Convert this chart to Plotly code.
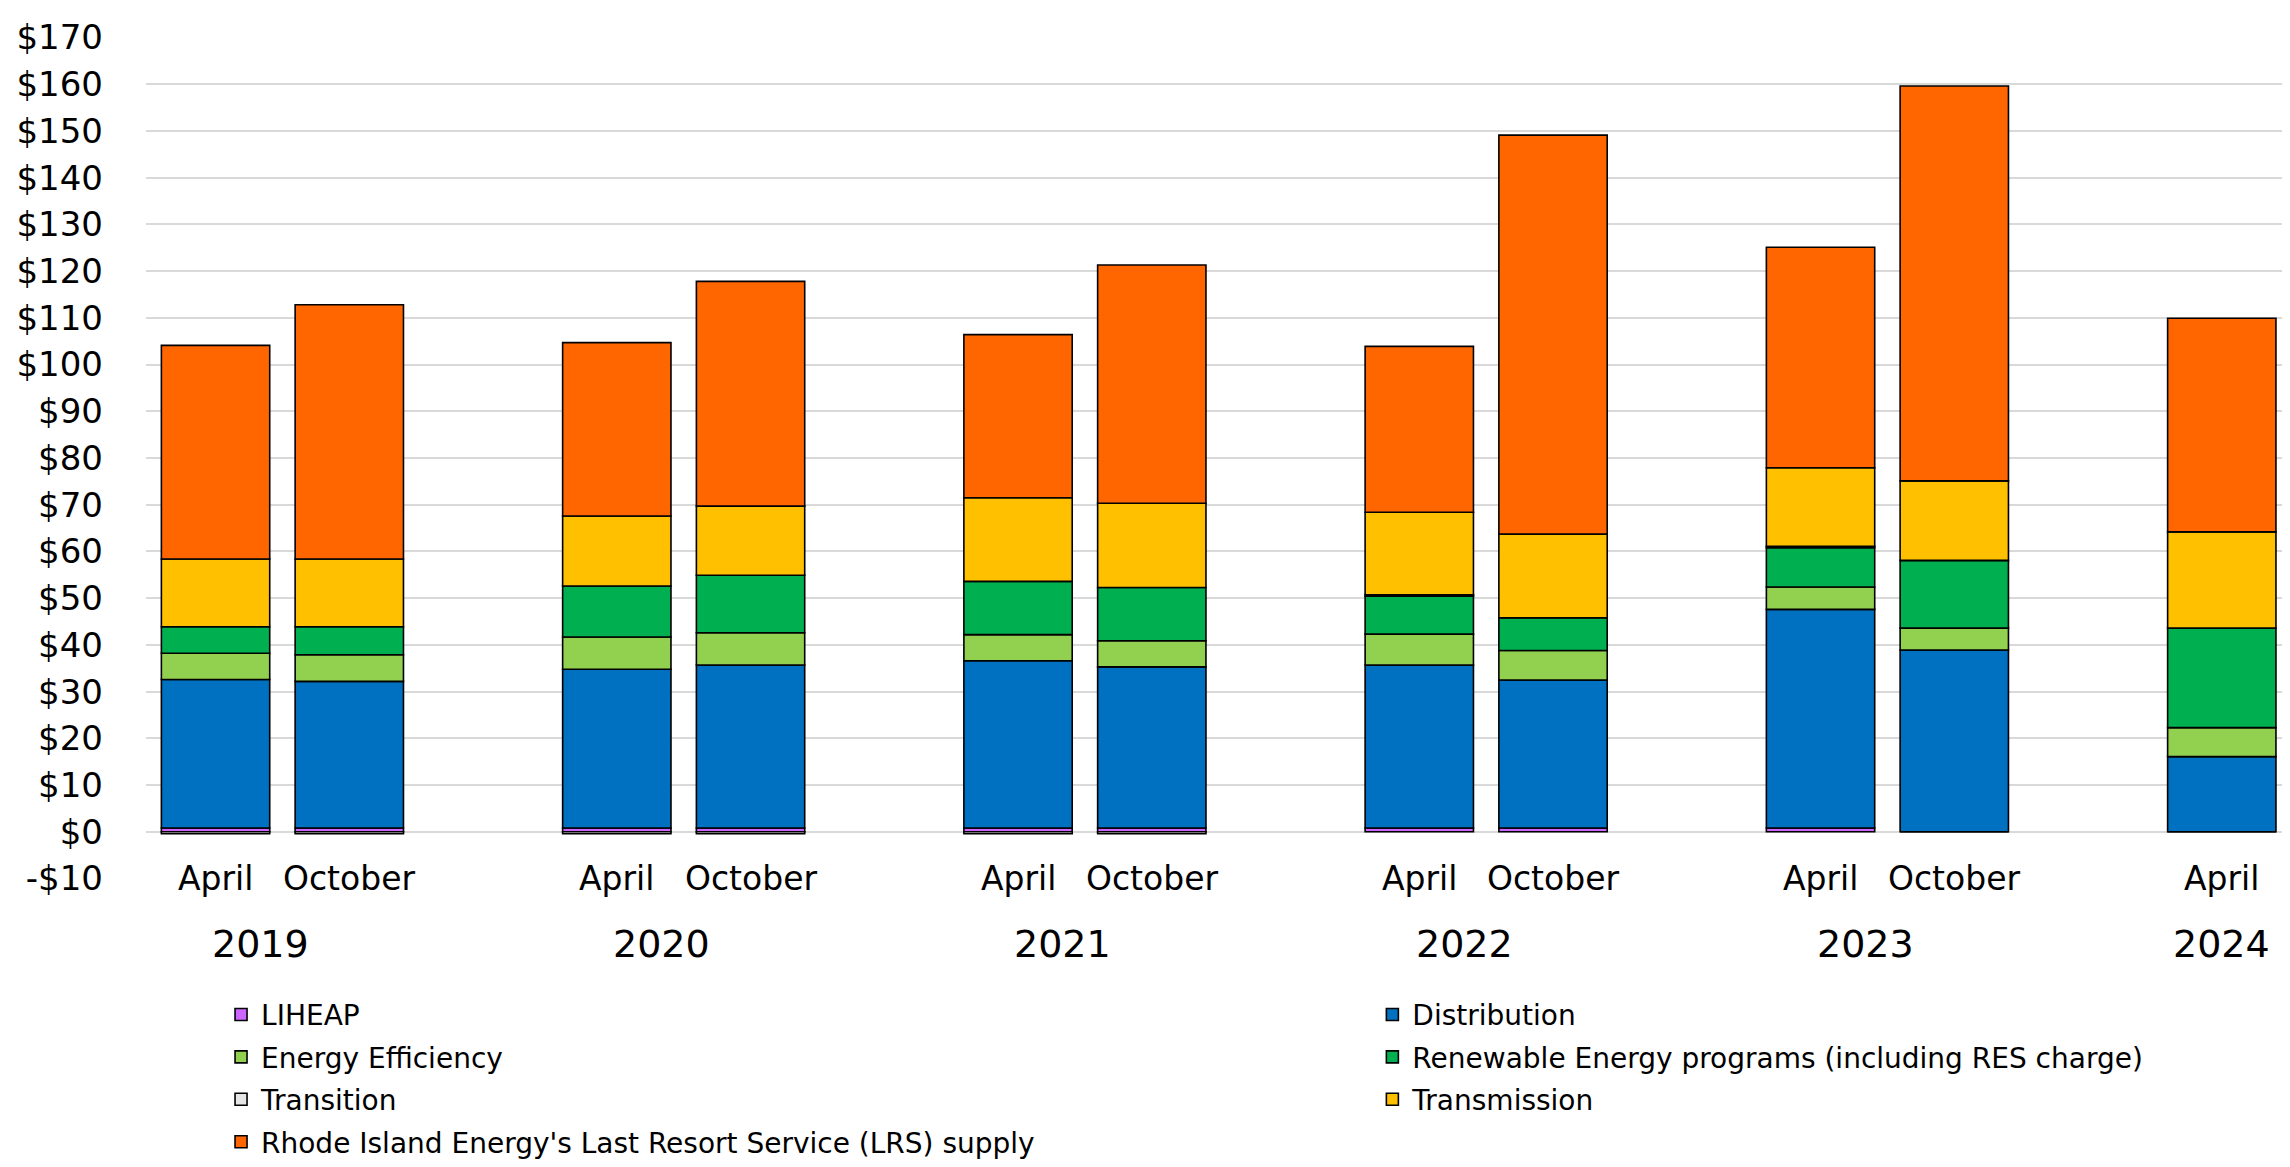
import plotly.graph_objects as go

# ---- data ----
years  = ["2019", "2019", "2020", "2020", "2021", "2021", "2022", "2022", "2023", "2023", "2024"]
months = ["April", "October", "April", "October", "April", "October", "April", "October", "April", "October", "April"]

liheap       = [0.8, 0.8, 0.8, 0.8, 0.8, 0.8, 0.8, 0.8, 0.8, 0.0, 0.0]
distribution = [31.8, 31.4, 34.0, 34.9, 35.8, 34.5, 34.9, 31.7, 46.8, 38.9, 16.1]
efficiency   = [5.6, 5.7, 6.9, 6.9, 5.6, 5.6, 6.6, 6.3, 4.8, 4.7, 6.2]
renewable    = [5.7, 6.0, 10.9, 12.3, 11.4, 11.4, 8.1, 7.0, 8.4, 14.5, 21.3]
transition   = [-0.4, -0.4, -0.4, -0.4, -0.4, -0.4, 0.3, 0.0, 0.3, 0.0, 0.0]
transmission = [14.5, 14.5, 15.0, 14.8, 17.9, 18.0, 17.7, 17.9, 16.8, 17.0, 20.6]
lrs          = [45.7, 54.4, 37.1, 48.1, 34.9, 51.0, 35.5, 85.4, 47.2, 84.5, 45.7]

series_names = [
    "LIHEAP",
    "Distribution",
    "Energy Efficiency",
    "Renewable Energy programs (including RES charge)",
    "Transition",
    "Transmission",
    "Rhode Island Energy's Last Resort Service (LRS) supply",
]
series_values = [liheap, distribution, efficiency, renewable, transition, transmission, lrs]
series_colors = ["#CC66FF", "#0070C0", "#92D050", "#00B050", "#E7E6E6", "#FFC000", "#FF6600"]

y_ticks = list(range(-10, 171, 10))

# ---- positions: each year is a group, one empty slot between groups ----
year_order = []
for yv in years:
    if yv not in year_order:
        year_order.append(yv)
month_order = ["April", "October"]
xpos = [year_order.index(yv) * 3 + month_order.index(m) for yv, m in zip(years, months)]

FONT = "DejaVu Sans, sans-serif"

fig = go.Figure()
for i, (name, vals, col) in enumerate(zip(series_names, series_values, series_colors)):
    fig.add_trace(go.Bar(
        x=xpos, y=vals, name=name,
        marker=dict(color=col, line=dict(color="#000000", width=1.6)),
        width=0.81,
        legend="legend" if i % 2 == 0 else "legend2",
        legendgroup="g%d" % i,
    ))

annotations = []
for x, m in zip(xpos, months):
    annotations.append(dict(
        x=x, y=-10, xref="x", yref="y", text=m, showarrow=False,
        font=dict(family=FONT, size=33, color="#000000"),
        xanchor="center", yanchor="middle",
    ))
for yv in year_order:
    xs = [x for x, y2 in zip(xpos, years) if y2 == yv]
    annotations.append(dict(
        x=sum(xs) / len(xs), y=-0.077, xref="x", yref="paper", text=yv,
        showarrow=False, xshift=-22 if len(xs) > 1 else 0,
        font=dict(family=FONT, size=38, color="#000000"),
        xanchor="center", yanchor="middle",
    ))

legend_common = dict(
    orientation="v", yanchor="top", y=-0.1316, xanchor="left",
    font=dict(family=FONT, size=28, color="#000000"),
    traceorder="grouped", tracegroupgap=3, bgcolor="rgba(0,0,0,0)",
)

fig.update_layout(
    width=2290, height=1167,
    barmode="relative",
    plot_bgcolor="white", paper_bgcolor="white",
    margin=dict(l=134, r=8, t=29, b=287),
    font=dict(family=FONT, color="#000000"),
    showlegend=True,
    legend=dict(x=0.035, **legend_common),
    legend2=dict(x=0.572, **legend_common),
    annotations=annotations,
)
fig.update_xaxes(
    range=[-0.52, 15.51], showticklabels=False, showgrid=False, zeroline=False,
    showline=False, ticks="",
)
fig.update_yaxes(
    range=[-10.1, 170.1], tickvals=y_ticks,
    ticktext=[("-$" + str(abs(v))) if v < 0 else ("$" + str(v)) for v in y_ticks],
    tickfont=dict(family=FONT, size=34, color="#000000"),
    ticklabelstandoff=42,
    showgrid=True, gridcolor="#D9D9D9", gridwidth=1.5,
    zeroline=False, showline=False, ticks="",
)

fig.write_html("out.html")
